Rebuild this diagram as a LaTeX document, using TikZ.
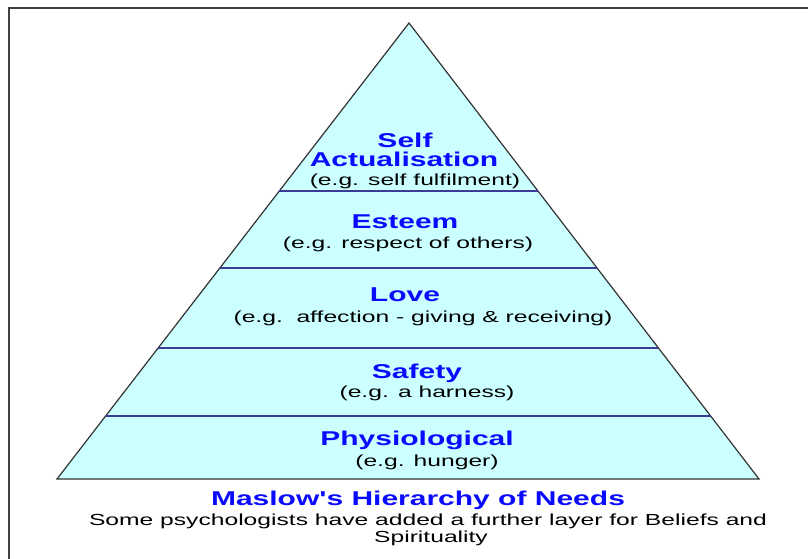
\documentclass[tikz,border=0pt]{standalone}
\usepackage{fontspec}
\setmainfont{Liberation Sans}
\newfontfamily\widefont[FakeStretch=1.5]{Liberation Sans}
\newfontfamily\notefont[FakeStretch=1.54]{Liberation Sans}

\definecolor{pyrfill}{RGB}{204,255,255}
\definecolor{pyrline}{RGB}{60,60,150}
\definecolor{lvlblue}{RGB}{10,10,255}

\tikzset{
  lvlname/.style={anchor=base,inner sep=0pt,text=lvlblue,font=\widefont\bfseries\fontsize{20}{24}\selectfont},
  lvlnote/.style={anchor=base,inner sep=0pt,font=\notefont\fontsize{16}{19}\selectfont},
}

\begin{document}
\begin{tikzpicture}[x=1pt,y=-1pt]
\useasboundingbox (0,0) rectangle (808,559);
% frame
\draw[black!75,line width=2pt] (808,8) -- (9,8) -- (9,559);
% pyramid
\coordinate (apex) at (409,23);
\coordinate (bl) at (57,479);
\coordinate (br) at (759,479);
\draw[fill=pyrfill,draw=black!80,line width=1.2pt] (apex) -- (br) -- (bl) -- cycle;
\foreach \y/\xl/\xr in {191/279/538, 268/220/597, 348/158/658, 416/106/711}
  \draw[pyrline,line width=1.2pt] (\xl,\y) -- (\xr,\y);
% levels
\node[lvlname] (selfa) at (405,147) {Self};
\node[lvlname] (selfb) at (404,166) {Actualisation};
\node[lvlnote] (selfn) at (415,185) {(e.g. self fulfilment)};
\node[lvlname] (esteem) at (405,228) {Esteem};
\node[lvlnote] (esteemn) at (408,248) {(e.g. respect of others)};
\node[lvlname] (love) at (405,301) {Love};
\node[lvlnote] (loven) at (423,322) {(e.g.\ \ affection - giving \& receiving)};
\node[lvlname] (safety) at (417,378) {Safety};
\node[lvlnote] (safetyn) at (427,397) {(e.g. a harness)};
\node[lvlname] (physio) at (417,445) {Physiological};
\node[lvlnote] (physion) at (427,466) {(e.g. hunger)};
% caption
\node[lvlname] (title) at (418,505) {Maslow's Hierarchy of Needs};
\node[lvlnote] (capa) at (428,525) {Some psychologists have added a further layer for Beliefs and};
\node[lvlnote] (capb) at (431,542) {Spirituality};
\end{tikzpicture}
\end{document}
